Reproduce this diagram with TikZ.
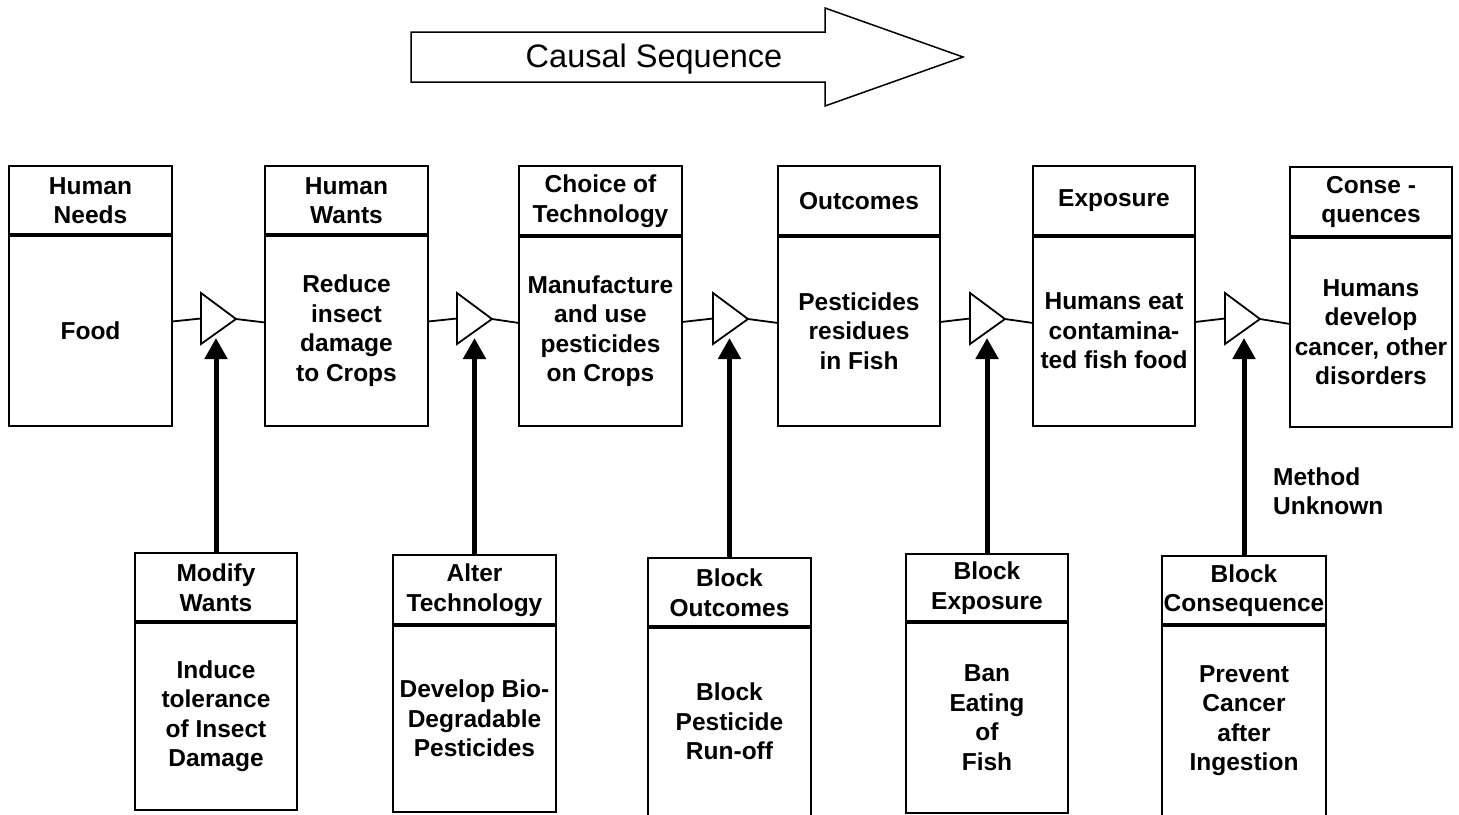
\documentclass[tikz,border=0pt]{standalone}
\usepackage{fontspec}
\setmainfont{Liberation Sans}
\usetikzlibrary{arrows.meta}
\tikzset{
  boxpart/.style={draw, line width=1.8pt, inner sep=0pt, outer sep=0pt, align=center,
    font=\fontsize{24.5}{29.5}\selectfont\bfseries},
  divider/.style={draw, line width=3.2pt},
  tri/.style={draw, line width=1.8pt, line join=miter, fill=white},
  conn/.style={draw, line width=1.8pt},
  bigarrow/.style={draw, line width=5pt, -{Triangle[width=22pt,length=21pt]}},
  lbl/.style={inner sep=0pt, align=left, font=\fontsize{24.5}{29.5}\selectfont\bfseries},
  causal/.style={draw, line width=1.5pt, line join=miter}
}
\newcommand{\TwoPart}[8]{%
  \node[boxpart, minimum width={(#3-#2)*1pt}, minimum height={(#5-#4)*1pt}, anchor=north west] (#1h) at (#2,#4) {#7};
  \node[boxpart, minimum width={(#3-#2)*1pt}, minimum height={(#6-#5)*1pt}, anchor=north west] (#1b) at (#2,#5) {#8};
  \draw[divider] (#1h.south west) -- (#1h.south east);
}
\newcommand{\Tri}[2]{% name, xleft
  \draw[tri] (#2,293) -- (#2+35,319) -- (#2,344) -- cycle;
  \coordinate (#1in) at (#2,318.5);
  \coordinate (#1out) at (#2+35,319);
}
\begin{document}
\begin{tikzpicture}[x=1pt,y=-1pt]
\useasboundingbox (0,0) rectangle (1459,814);

% causal sequence arrow
\draw[causal] (411,32) -- (825,32) -- (825,8) -- (963,57) -- (825,106) -- (825,82) -- (411,82) -- cycle;
\node[inner sep=0pt, font=\fontsize{32.5}{38}\selectfont] (cs) at (654,59) {Causal Sequence};

% top boxes
\TwoPart{t1}{9}{172}{166}{235}{426}{Human\\Needs}{Food}
\TwoPart{t2}{265}{428}{166}{235}{426}{Human\\Wants}{Reduce\\insect\\damage\\to Crops}
\TwoPart{t3}{519}{682}{166}{236}{426}{Choice of\\Technology}{Manufacture\\and use\\pesticides\\on Crops}
\TwoPart{t4}{778}{940}{166}{236}{426}{Outcomes}{Pesticides\\residues\\in Fish}
\TwoPart{t5}{1033}{1195}{166}{236}{426}{Exposure}{Humans eat\\contamina-\\ted fish food}
\TwoPart{t6}{1290}{1452}{167}{237}{427}{Conse -\\quences}{Humans\\develop\\cancer, other\\disorders}

% bottom boxes
\TwoPart{b1}{135}{297}{553}{622}{810}{Modify\\Wants}{Induce\\tolerance\\of Insect\\Damage}
\TwoPart{b2}{393}{556}{555}{625}{812}{Alter\\Technology}{Develop Bio-\\Degradable\\Pesticides}
\TwoPart{b3}{648}{811}{558}{627}{816}{Block\\Outcomes}{Block\\Pesticide\\Run-off}
\TwoPart{b4}{906}{1068}{554}{622}{813}{Block\\Exposure}{Ban\\Eating\\of\\Fish}
\TwoPart{b5}{1162}{1326}{556}{625}{816}{Block\\Consequence}{Prevent\\Cancer\\after\\Ingestion}

% triangles
\Tri{g1}{201}
\Tri{g2}{457}
\Tri{g3}{713}
\Tri{g4}{970}
\Tri{g5}{1225}

% horizontal connectors
\draw[conn] ([yshift=9pt]t1b.east) -- (g1in);
\draw[conn] (g1out) -- ([yshift=8pt]t2b.west);
\draw[conn] ([yshift=9pt]t2b.east) -- (g2in);
\draw[conn] (g2out) -- ([yshift=8pt]t3b.west);
\draw[conn] ([yshift=9pt]t3b.east) -- (g3in);
\draw[conn] (g3out) -- ([yshift=8pt]t4b.west);
\draw[conn] ([yshift=9pt]t4b.east) -- (g4in);
\draw[conn] (g4out) -- ([yshift=8pt]t5b.west);
\draw[conn] ([yshift=9pt]t5b.east) -- (g5in);
\draw[conn] (g5out) -- ([yshift=8pt]t6b.west);

% vertical arrows
\coordinate (arrtop) at (0,338);
\draw[bigarrow] (b1h.north) -- (b1h.north |- arrtop);
\draw[bigarrow] (b2h.north) -- (b2h.north |- arrtop);
\draw[bigarrow] (b3h.north) -- (b3h.north |- arrtop);
\draw[bigarrow] (b4h.north) -- (b4h.north |- arrtop);
\draw[bigarrow] (b5h.north) -- (b5h.north |- arrtop);

\node[lbl, anchor=west] (mu) at (1273,491) {Method\\Unknown};
\end{tikzpicture}
\end{document}
